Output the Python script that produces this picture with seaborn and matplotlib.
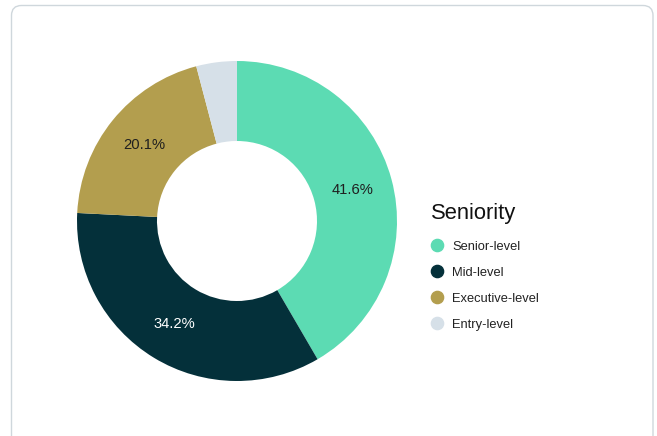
import matplotlib
matplotlib.use("Agg")
import matplotlib.pyplot as plt
from matplotlib.patches import FancyBboxPatch
from matplotlib.lines import Line2D
import seaborn as sns

# Share of job postings by seniority
categories = ["Senior-level", "Mid-level", "Executive-level", "Entry-level"]
shares = [41.6, 34.2, 20.1, 4.1]
colors = ["#5cdbb3", "#04303a", "#b39e4e", "#d6e0e8"]
label_colors = ["#1f1f1f", "#ffffff", "#1f1f1f", "#1f1f1f"]
legend_title = "Seniority"

sns.set_theme(style="white")
plt.rcParams["font.family"] = ["Liberation Sans", "DejaVu Sans"]

W, H, DPI = 657, 436, 100
fig = plt.figure(figsize=(W / DPI, H / DPI), dpi=DPI)
fig.patch.set_facecolor("white")

# Card outline with rounded corners (in inches)
card = FancyBboxPatch(
    (11.5 / DPI, -20 / DPI), (653 - 11.5) / DPI, (H - 5.5 + 20) / DPI,
    boxstyle="round,pad=0,rounding_size=0.1",
    transform=fig.dpi_scale_trans, facecolor="white",
    edgecolor="#cfd7dc", linewidth=1.0, zorder=-5,
)
fig.patches.append(card)

# Donut axes: centre (237, 221) px, outer radius 160 px
cx, cy, r = 237, 221, 160
ax = fig.add_axes([(cx - r) / W, (H - cy - r) / H, 2 * r / W, 2 * r / H])
ax.set_facecolor("none")
ax.set_zorder(2)

def fmt(p):
    return f"{p:.1f}%" if p >= 5 else ""

wedges, _, autotexts = ax.pie(
    shares, colors=colors, startangle=90, counterclock=False,
    radius=1.0, autopct=fmt, pctdistance=0.75,
    wedgeprops=dict(width=0.5, linewidth=0),
    textprops=dict(fontsize=10.6),
)
for t, c in zip(autotexts, label_colors):
    t.set_color(c)
ax.set_xlim(-1, 1)
ax.set_ylim(-1, 1)
ax.set_aspect("equal")
ax.axis("off")

handles = [
    Line2D([], [], marker="o", linestyle="none", markersize=8.8,
           markerfacecolor=c, markeredgecolor=c)
    for c in colors
]
leg = fig.legend(
    handles, categories, title=legend_title,
    loc="upper left", bbox_to_anchor=(431 / W, (H - 203) / H),
    frameon=False, fontsize=9.3, title_fontsize=15.8,
    labelspacing=1.08, handlelength=1.0, handletextpad=0.62,
    borderpad=0, borderaxespad=0,
)
leg._legend_box.align = "left"
leg._legend_box.sep = 12
leg.set_zorder(3)
for t in leg.get_texts():
    t.set_color("#222222")
leg.get_title().set_color("#111111")

fig.savefig("out.png", dpi=DPI)
